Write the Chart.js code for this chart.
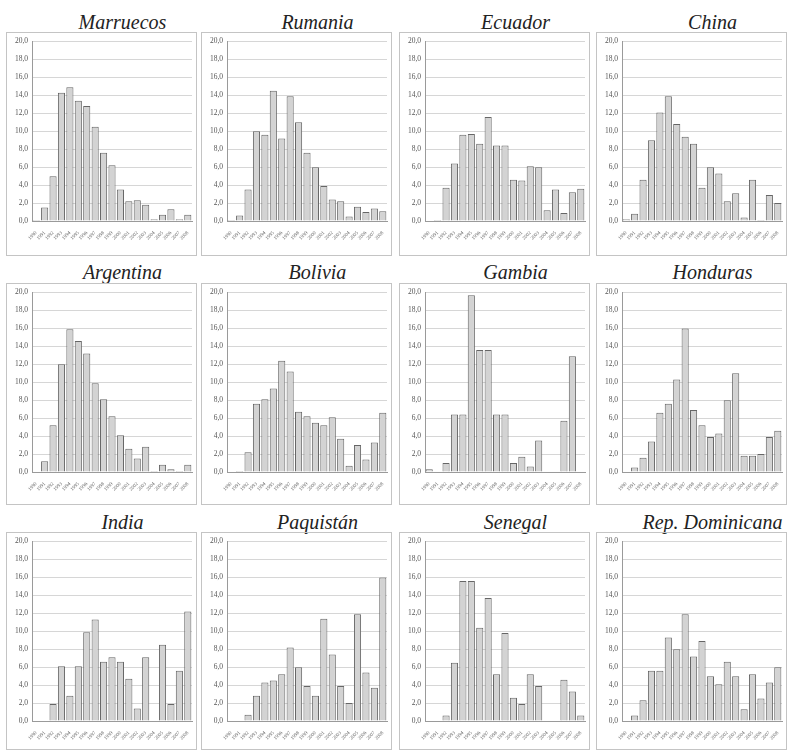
<!DOCTYPE html>
<html>
<head>
<meta charset="utf-8">
<script src="https://cdn.jsdelivr.net/npm/chart.js@4"></script>
<style>
  body { margin: 0; background: #fff; width: 789px; height: 750px; position: relative; overflow: hidden; }
  .title { position: absolute; font-family: "Liberation Serif", serif; font-style: italic; font-size: 20px; color: #222; text-align: center; line-height: 22px; }
  .box { position: absolute; border: 1px solid #c4c4c4; box-sizing: border-box; }
  .box canvas { display: block; }
</style>
</head>
<body>
<script>
// ===== Data =====
const years = ["1990","1991","1992","1993","1994","1995","1996","1997","1998","1999",
               "2000","2001","2002","2003","2004","2005","2006","2007","2008"];

const countries = ["Marruecos", "Rumania", "Ecuador", "China",
                   "Argentina", "Bolivia", "Gambia", "Honduras",
                   "India", "Paquistán", "Senegal", "Rep. Dominicana"];

const marruecos = [0.1, 1.5, 5.0, 14.3, 14.9, 13.4, 12.8, 10.5, 7.6, 6.2, 3.5, 2.2, 2.3, 1.8, 0.2, 0.7, 1.3, 0.2, 0.7];
const rumania   = [0.1, 0.6, 3.5, 10.0, 9.6, 14.5, 9.2, 13.9, 11.0, 7.6, 6.0, 3.9, 2.4, 2.2, 0.5, 1.6, 1.0, 1.4, 1.1];
const ecuador   = [0.0, 0.1, 3.7, 6.4, 9.6, 9.7, 8.6, 11.6, 8.4, 8.4, 4.6, 4.5, 6.1, 6.0, 1.2, 3.5, 0.9, 3.2, 3.6];
const china     = [0.2, 0.8, 4.6, 9.0, 12.1, 13.9, 10.8, 9.4, 8.6, 3.7, 6.0, 5.3, 2.2, 3.1, 0.4, 4.6, 0.1, 2.9, 2.0];
const argentina = [0.0, 1.2, 5.2, 12.0, 15.9, 14.6, 13.2, 9.9, 8.1, 6.2, 4.1, 2.6, 1.5, 2.8, 0.1, 0.8, 0.3, 0.1, 0.8];
const bolivia   = [0.0, 0.1, 2.2, 7.6, 8.1, 9.3, 12.4, 11.2, 6.7, 6.2, 5.5, 5.2, 6.1, 3.7, 0.7, 3.0, 1.4, 3.3, 6.6];
const gambia    = [0.3, 0.0, 1.0, 6.4, 6.4, 19.7, 13.6, 13.6, 6.4, 6.4, 1.0, 1.7, 0.6, 3.5, 0.0, 0.0, 5.7, 12.9, 0.0];
const honduras  = [0.0, 0.5, 1.6, 3.4, 6.6, 7.6, 10.3, 16.0, 6.9, 5.2, 3.9, 4.3, 8.0, 11.0, 1.8, 1.8, 2.0, 3.9, 4.6];
const india     = [0.0, 0.0, 1.9, 6.1, 2.8, 6.1, 9.9, 11.3, 6.6, 7.1, 6.6, 4.7, 1.4, 7.1, 0.0, 8.5, 1.9, 5.6, 12.2];
const paquistan = [0.0, 0.0, 0.7, 2.8, 4.3, 4.5, 5.2, 8.2, 6.0, 3.9, 2.8, 11.4, 7.4, 3.9, 2.0, 11.9, 5.4, 3.7, 16.0];
const senegal   = [0.0, 0.0, 0.6, 6.5, 15.6, 15.6, 10.4, 13.7, 5.2, 9.8, 2.6, 1.9, 5.2, 3.9, 0.0, 0.0, 4.6, 3.3, 0.6];
const repDom    = [0.0, 0.6, 2.3, 5.6, 5.6, 9.3, 8.0, 11.9, 7.2, 8.9, 5.0, 4.1, 6.6, 5.0, 1.3, 5.2, 2.5, 4.3, 6.0];

const series = [marruecos, rumania, ecuador, china, argentina, bolivia,
                gambia, honduras, india, paquistan, senegal, repDom];

// ===== Layout =====
const colLeft = [6, 201, 399, 596];
const colWidth = 191;
const rowTitleTop = [11, 261, 511];
const rowBoxTop = [32, 283, 532];
const rowBoxHeight = [224, 222, 218];

const serif = "'Liberation Serif', 'Times New Roman', serif";

countries.forEach(function (name, i) {
  const col = i % 4;
  const row = Math.floor(i / 4);

  // title, a little right of the box centre like the original
  const t = document.createElement("div");
  t.className = "title";
  t.textContent = name;
  t.style.left = (colLeft[col] + 40) + "px";
  t.style.width = (colWidth - 38) + "px";
  t.style.top = rowTitleTop[row] + "px";
  document.body.appendChild(t);

  const box = document.createElement("div");
  box.className = "box";
  box.style.left = colLeft[col] + "px";
  box.style.top = rowBoxTop[row] + "px";
  box.style.width = colWidth + "px";
  box.style.height = rowBoxHeight[row] + "px";
  const canvas = document.createElement("canvas");
  canvas.width = colWidth - 2;
  canvas.height = rowBoxHeight[row] - 2;
  canvas.style.width = (colWidth - 2) + "px";
  canvas.style.height = (rowBoxHeight[row] - 2) + "px";
  box.appendChild(canvas);
  document.body.appendChild(box);

  const xHeight = rowBoxHeight[row] - 2 - 188 - 2;

  new Chart(canvas, {
    type: "bar",
    data: {
      labels: years,
      datasets: [{
        data: series[i],
        backgroundColor: "#d3d3d3",
        borderColor: "#666",
        borderWidth: 1,
        barPercentage: 0.92,
        categoryPercentage: 0.92
      }]
    },
    options: {
      responsive: false,
      animation: false,
      devicePixelRatio: 1,
      layout: { padding: { top: 8, right: 4, bottom: 2, left: 2 } },
      plugins: { legend: { display: false }, tooltip: { enabled: false } },
      scales: {
        y: {
          min: 0,
          max: 20,
          afterFit: function (s) { s.width = 23; },
          ticks: {
            stepSize: 2,
            padding: 4,
            color: "#555",
            font: { family: serif, size: 7.5 },
            callback: function (v) { return v.toFixed(1).replace(".", ","); }
          },
          grid: { color: "#d6d6d6", lineWidth: 1, drawTicks: false },
          border: { color: "#9a9a9a" }
        },
        x: {
          afterFit: function (s) { s.height = xHeight; },
          ticks: {
            autoSkip: false,
            minRotation: 45,
            maxRotation: 45,
            padding: 1,
            color: "#666",
            font: { family: serif, size: 5 }
          },
          grid: { display: false },
          border: { color: "#9a9a9a" }
        }
      }
    }
  });
});
</script>
</body>
</html>
